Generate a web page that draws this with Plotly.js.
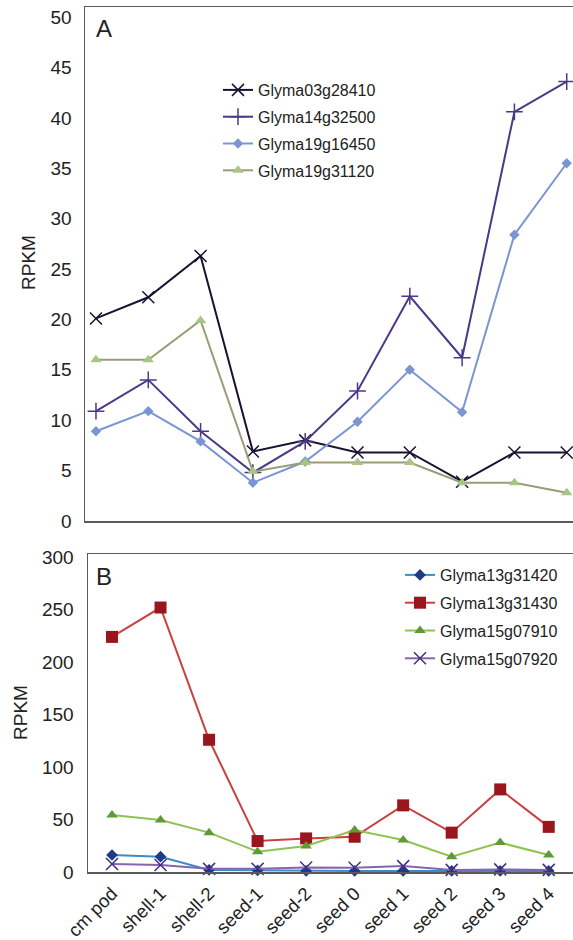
<!DOCTYPE html>
<html>
<head>
<meta charset="utf-8">
<script src="https://cdn.plot.ly/plotly-3.0.1.min.js"></script>
<style>html,body{margin:0;padding:0;background:#fff;overflow:hidden}#chart{width:573px;height:940px}</style>
</head>
<body>
<div id="chart"></div>
<script>
const categories = ["cm pod","shell-1","shell-2","seed-1","seed-2","seed 0","seed 1","seed 2","seed 3","seed 4"];

// Panel A
const namesA = ["Glyma03g28410","Glyma14g32500","Glyma19g16450","Glyma19g31120"];
const g03g28410 = [20.1, 22.2, 26.3, 6.9, 8.0, 6.8, 6.8, 3.9, 6.8, 6.8];
const g14g32500 = [10.9, 14.0, 8.9, 4.8, 7.9, 12.9, 22.3, 16.2, 40.6, 43.6];
const g19g16450 = [8.9, 10.9, 7.9, 3.8, 5.9, 9.85, 15.0, 10.8, 28.4, 35.5];
const g19g31120 = [16.0, 16.0, 19.9, 4.9, 5.8, 5.8, 5.8, 3.8, 3.8, 2.8];

// Panel B
const namesB = ["Glyma13g31420","Glyma13g31430","Glyma15g07910","Glyma15g07920"];
const g13g31420 = [16.2, 14.6, 2.0, 1.5, 1.0, 1.0, 1.0, 1.0, 1.0, 1.0];
const g13g31430 = [224, 252, 126, 29.5, 32, 33.6, 63.5, 37.5, 78.7, 43];
const g15g07910 = [54.3, 49.5, 37.5, 19.4, 24.8, 40, 30.5, 14.6, 28, 16.2];
const g15g07920 = [7.6, 6.7, 3.0, 3.0, 4.2, 4.0, 5.6, 2.0, 2.5, 2.0];

const FONT = "Liberation Sans, Arial, Helvetica, sans-serif";

function tr(name, y, lineColor, sym, mColor, mSize, xa, ya, leg, mLineW) {
  return {
    type: "scatter", mode: "lines+markers", name: name, legendgroup: name,
    x: categories.map((c, i) => i), y: y,
    xaxis: xa, yaxis: ya, legend: leg,
    line: {color: lineColor, width: 2},
    marker: {symbol: sym, color: mColor, size: mSize,
             line: {color: mColor, width: mLineW || 0}},
    cliponaxis: false
  };
}

const data = [
  tr(namesA[0], g03g28410, "#1b1130", "x-thin-open", "#1b1130", 12, "x", "y", "legend", 1.5),
  tr(namesA[1], g14g32500, "#4b3887", "cross-thin-open", "#4b3887", 12, "x", "y", "legend", 1.5),
  tr(namesA[2], g19g16450, "#7b95d3", "diamond", "#7b95d3", 8, "x", "y", "legend"),
  tr(namesA[3], g19g31120, "#999d78", "triangle-up", "#a8c584", 10, "x", "y", "legend"),
  tr(namesB[0], g13g31420, "#3d8ac9", "diamond", "#1e3b85", 9, "x2", "y2", "legend2"),
  tr(namesB[1], g13g31430, "#c9413e", "square", "#9a161c", 12, "x2", "y2", "legend2"),
  tr(namesB[2], g15g07910, "#8fc253", "triangle-up", "#5e9a36", 10, "x2", "y2", "legend2"),
  tr(namesB[3], g15g07920, "#8466b0", "x-thin-open", "#3f2d86", 12, "x2", "y2", "legend2", 1.5)
];

const axLine = "#5a5a5a";
const layout = {
  width: 573, height: 940,
  margin: {l: 0, r: 0, t: 0, b: 0},
  paper_bgcolor: "#fff", plot_bgcolor: "#fff",
  font: {family: FONT, size: 19, color: "#222"},
  showlegend: true,
  xaxis: {
    domain: [85/573, 1], range: [-0.21, 9.12],
    showline: true, mirror: true, linecolor: axLine, linewidth: 1.5,
    showgrid: false, zeroline: false, showticklabels: false, ticks: "",
    anchor: "y", automargin: false
  },
  yaxis: {
    domain: [1 - 521/940, 1 - 7/940], range: [0, 51],
    tickvals: [0,5,10,15,20,25,30,35,40,45,50],
    showline: true, linecolor: axLine, linewidth: 1.5,
    showgrid: false, zeroline: false, ticks: "", ticklabelstandoff: 8,
    tickfont: {size: 19, color: "#222"}, anchor: "x", automargin: false
  },
  xaxis2: {
    domain: [88/573, 1], range: [-0.495, 9.5],
    showline: true, mirror: true, linecolor: axLine, linewidth: 1.5,
    showgrid: false, zeroline: false, ticks: "",
    tickmode: "array", tickvals: categories.map((c, i) => i), ticktext: categories,
    tickangle: -45, tickfont: {size: 18.5, color: "#222"}, ticklabelstandoff: 2,
    ticklabeloverflow: "allow",
    anchor: "y2", automargin: false
  },
  yaxis2: {
    domain: [1 - 872/940, 1 - 554/940], range: [0, 303],
    tickvals: [0,50,100,150,200,250,300],
    showline: true, linecolor: axLine, linewidth: 1.5,
    showgrid: false, zeroline: false, ticks: "", ticklabelstandoff: 9,
    tickfont: {size: 19, color: "#222"}, anchor: "x2", automargin: false
  },
  legend: {
    x: 218/573, y: 1 - 73/940, xanchor: "left", yanchor: "top",
    bgcolor: "rgba(0,0,0,0)", font: {size: 16, color: "#222"},
    traceorder: "grouped", tracegroupgap: 3
  },
  legend2: {
    x: 400/573, y: 1 - 558/940, xanchor: "left", yanchor: "top",
    bgcolor: "rgba(0,0,0,0)", font: {size: 16, color: "#222"},
    traceorder: "grouped", tracegroupgap: 4
  },
  annotations: [
    {text: "A", xref: "paper", yref: "paper", x: 94/573, y: 1 - 29/940, xanchor: "left", yanchor: "middle", showarrow: false, font: {size: 24, color: "#222"}},
    {text: "B", xref: "paper", yref: "paper", x: 94/573, y: 1 - 576/940, xanchor: "left", yanchor: "middle", showarrow: false, font: {size: 24, color: "#222"}},
    {text: "RPKM", xref: "paper", yref: "paper", x: 29/573, y: 1 - 263/940, xanchor: "center", yanchor: "middle", textangle: -90, showarrow: false, font: {size: 19, color: "#222"}},
    {text: "RPKM", xref: "paper", yref: "paper", x: 20/573, y: 1 - 713/940, xanchor: "center", yanchor: "middle", textangle: -90, showarrow: false, font: {size: 19, color: "#222"}}
  ]
};

Plotly.newPlot("chart", data, layout, {displayModeBar: false, staticPlot: true});
</script>
</body>
</html>
